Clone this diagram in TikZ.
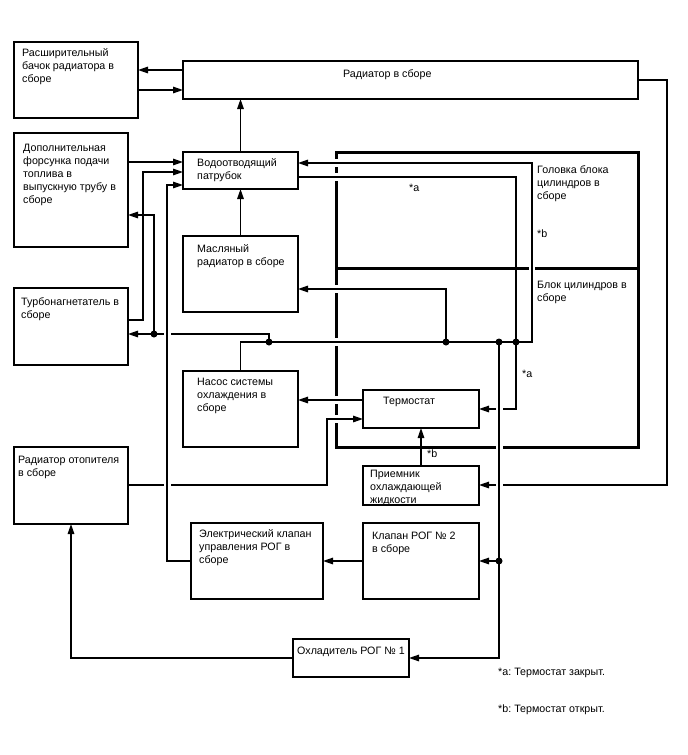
\documentclass[tikz,border=0pt]{standalone}
\usepackage{fontspec}
\setmainfont{Liberation Sans}
\usetikzlibrary{arrows.meta}
\frenchspacing

\tikzset{
  unit/.style={draw, line width=1.4pt, anchor=north west, inner sep=0pt, outer sep=0pt},
  caption/.style={anchor=north west, inner sep=0pt, align=left, font=\fontsize{10.7}{13}\selectfont},
  pipe/.style={line width=1.4pt},
  flow/.style={pipe, -{Triangle[length=10pt,width=6.5pt]}},
  joint/.style={circle, fill, inner sep=0pt, minimum size=7pt},
  gap/.style={fill=white}
}

\begin{document}
\begin{tikzpicture}[x=1pt,y=1pt,yscale=-1]
\useasboundingbox (0,0) rectangle (688,755);

%Boxes
\node [unit, minimum width=124, minimum height=76] (tank) at (14,42) {};
\node [unit, minimum width=455, minimum height=38] (rad) at (183,61) {};
\node [unit, minimum width=114, minimum height=114] (inj) at (14,133) {};
\node [unit, minimum width=115, minimum height=37] (wo) at (183,152) {};
\node [unit, minimum width=115, minimum height=76] (oil) at (183,236) {};
\node [unit, minimum width=114, minimum height=77] (turbo) at (14,288) {};
\node [unit, minimum width=115, minimum height=76] (pump) at (183,371) {};
\node [unit, minimum width=116, minimum height=38] (thermo) at (363,390) {};
\node [unit, minimum width=116, minimum height=39] (recv) at (363,466) {};
\node [unit, minimum width=114, minimum height=77] (heater) at (14,447) {};
\node [unit, minimum width=132, minimum height=76] (egrv) at (191,523) {};
\node [unit, minimum width=116, minimum height=76] (egr2) at (363,523) {};
\node [unit, minimum width=116, minimum height=38] (cooler) at (293,639) {};

%Engine (head + block)
\node [unit, line width=3pt, minimum width=302, minimum height=295] (eng) at (336,152) {};
\draw [line width=3pt] (eng.west |- 0,268) -- (eng.east |- 0,268) ;

%Gaps in the engine outline
\fill [gap] (333,159) rectangle (339,167) ;
\fill [gap] (333,173) rectangle (339,181) ;
\fill [gap] (333,285) rectangle (339,293) ;
\fill [gap] (333,338) rectangle (339,346) ;
\fill [gap] (333,396) rectangle (339,404) ;
\fill [gap] (333,415) rectangle (339,423) ;
\fill [gap] (529,265) rectangle (535,271) ;
\fill [gap] (495.5,444) rectangle (502.5,450) ;

%Bend points
\coordinate (turboup) at (143,172);
\coordinate (egrup) at (167,185);
\coordinate (mainend) at (532,342);
\coordinate (heaterup) at (327,419);
\coordinate (radback) at (667,485);

%Junctions
\node [joint] (jturbo) at (154,334) {};
\node [joint] (jpump) at (269,342) {};
\node [joint] (joil) at (446,342) {};
\node [joint] (jegr) at (499,342) {};
\node [joint] (jthermo) at (516,342) {};
\node [joint] (jegr2) at (499,561) {};

%Straight Lines
\draw [flow] (rad.west |- 0,70) -- (tank.east |- 0,70) ;
\draw [flow] (tank.east |- 0,90) -- (rad.west |- 0,90) ;
\draw [flow] (wo.north) -- (wo.north |- rad.south) ;
\draw [flow] (oil.north) -- (oil.north |- wo.south) ;
\draw [flow] (inj.east |- 0,162) -- (wo.west |- 0,162) ;
\draw [flow] (turbo.east |- 0,320) -| (turboup) -- (wo.west |- turboup) ;
\draw [flow] (pump.north) |- (mainend) |- (wo.east |- 0,163) ;
\draw [flow] (jpump.center) |- (jturbo.center) -- (turbo.east |- jturbo) ;
\draw [flow] (jturbo.center) |- (inj.east |- 0,215) ;
\draw [flow] (joil.center) |- (oil.east |- 0,289) ;
\draw [flow] (wo.east |- 0,177) -| (jthermo.center) |- (thermo.east |- 0,409) ;
\draw [flow] (thermo.west |- 0,400) -- (pump.east |- 0,400) ;
\draw [flow] (heater.east |- 0,485) -| (heaterup) -- (thermo.west |- heaterup) ;
\draw [flow] (recv.north) -- (thermo.south) ;
\draw [flow] (rad.east) -| (radback) -- (recv.east |- radback) ;
\draw [flow] (egr2.west) -- (egrv.east) ;
\draw [flow] (cooler.west) -| (heater.south) ;

%Gaps where lines cross
\fill [gap] (163.5,332) rectangle (170.5,336) ;
\fill [gap] (163.5,483) rectangle (170.5,487) ;
\fill [gap] (495.5,483) rectangle (502.5,487) ;
\fill [gap] (495.5,407) rectangle (502.5,411) ;

\draw [flow] (egrv.west) -| (egrup) -- (wo.west |- egrup) ;
\draw [flow] (jegr.center) |- (cooler.east) ;
\draw [flow] (jegr2.center) -- (egr2.east) ;

% Text Node
\node [caption] (tank-t) at (22,48) {Расширительный\\бачок радиатора в\\сборе};
% Text Node
\node [caption] (rad-t) at (343,69) {Радиатор в сборе};
% Text Node
\node [caption] (inj-t) at (23,144) {Дополнительная\\форсунка подачи\\топлива в\\выпускную трубу в\\сборе};
% Text Node
\node [caption] (wo-t) at (197,158) {Водоотводящий\\патрубок};
% Text Node
\node [caption] (oil-t) at (197,244) {Масляный\\радиатор в сборе};
% Text Node
\node [caption] (turbo-t) at (21,297) {Турбонагнетатель в\\сборе};
% Text Node
\node [caption] (pump-t) at (197,378) {Насос системы\\охлаждения в\\сборе};
% Text Node
\node [caption] (thermo-t) at (383,397) {Термостат};
% Text Node
\node [caption] (recv-t) at (370,470) {Приемник\\охлаждающей\\жидкости};
% Text Node
\node [caption] (heater-t) at (18,456) {Радиатор отопителя\\в сборе};
% Text Node
\node [caption] (egrv-t) at (199,529) {Электрический клапан\\управления РОГ в\\сборе};
% Text Node
\node [caption] (egr2-t) at (372,532) {Клапан РОГ № 2\\в сборе};
% Text Node
\node [caption] (cooler-t) at (297,647) {Охладитель РОГ № 1};
% Text Node
\node [caption] (head-t) at (537,165) {Головка блока\\цилиндров в\\сборе};
% Text Node
\node [caption] (block-t) at (537,281) {Блок цилиндров в\\сборе};
% Text Node
\node [caption] (marka1) at (409,184) {*a};
% Text Node
\node [caption] (markb1) at (537,230) {*b};
% Text Node
\node [caption] (marka2) at (522,370) {*a};
% Text Node
\node [caption] (markb2) at (427,450) {*b};
% Text Node
\node [caption] (note-a) at (498,668) {*a: Термостат закрыт.};
% Text Node
\node [caption] (note-b) at (498,705) {*b: Термостат открыт.};
\end{tikzpicture}
\end{document}
